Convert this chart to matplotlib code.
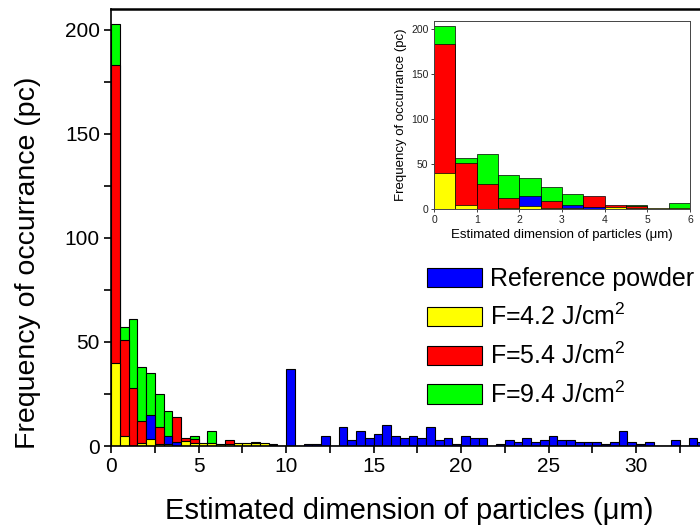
import matplotlib

matplotlib.use("Agg")

import matplotlib.pyplot as plt
import numpy as np
from matplotlib import font_manager
from matplotlib.patches import Patch

# bin left edges (0.5 um bins)
bin_left = np.arange(0, 34, 0.5)
bin_width = 0.5

# counts per bin
ref_powder = [0, 0, 0, 0, 15, 0, 5, 2, 0, 0, 0, 0, 0, 0, 0, 0, 0, 0, 0, 0,
              37, 0, 1, 1, 5, 0, 9, 3, 7, 4, 6, 10, 5, 4, 5, 4, 9, 3, 4, 1,
              5, 4, 4, 0, 1, 3, 2, 4, 2, 3, 5, 3, 3, 2, 2, 2, 1, 2, 7, 2,
              1, 2, 0, 0, 3, 0, 4, 2]
f42 = [40, 5, 0, 1.5, 3.5, 1, 1, 0, 2.5, 1.5, 1.5, 1.5, 1, 1, 1.5, 1.5, 1.5, 1.5, 0.5, 0] + [0] * 48
f54 = [183, 51, 28, 12, 0, 9, 0, 14, 4, 3.5, 0, 0, 0, 3, 0, 0, 0, 0, 1, 0] + [0] * 48
f94 = [203, 57, 61, 38, 35, 25, 17, 0, 0, 5, 0, 7, 0, 0, 0, 0, 2, 0, 0, 0] + [0] * 48

series = [
    ("F=9.4 J/cm$^2$", f94, "#00ff00"),
    ("F=5.4 J/cm$^2$", f54, "#ff0000"),
    ("Reference powder", ref_powder, "#0000ff"),
    ("F=4.2 J/cm$^2$", f42, "#ffff00"),
]
legend_order = ["Reference powder", "F=4.2 J/cm$^2$", "F=5.4 J/cm$^2$", "F=9.4 J/cm$^2$"]

names = {f.name for f in font_manager.fontManager.ttflist}
if "Liberation Sans Narrow" in names:
    main_font, label_size, tick_size, leg_size = "Liberation Sans Narrow", 25, 17, 21
else:
    main_font, label_size, tick_size, leg_size = "Liberation Sans", 21, 15, 18

plt.rcParams["font.family"] = ["Liberation Sans", "DejaVu Sans"]
plt.rcParams["mathtext.fontset"] = "custom"
plt.rcParams["mathtext.rm"] = "Liberation Sans"
plt.rcParams["mathtext.it"] = "Liberation Sans:italic"

fig = plt.figure(figsize=(7, 5.28), dpi=100)
ax = fig.add_axes([111 / 700, 82 / 528, 589 / 700, 437 / 528])


def draw_bars(a, lw):
    for label, vals, color in series:
        a.bar(bin_left, vals, width=bin_width, align="edge", color=color,
              edgecolor="black", linewidth=lw, label=label)


draw_bars(ax, 0.8)
ax.set_xlim(0, 33.65)
ax.set_ylim(0, 210)
ax.set_xticks([0, 5, 10, 15, 20, 25, 30])
ax.set_xticks(np.arange(2.5, 34, 5), minor=True)
ax.set_yticks([0, 50, 100, 150, 200])
ax.set_yticks([25, 75, 125, 175], minor=True)
ax.tick_params(which="both", direction="out", width=1.2, top=False, right=False)
ax.tick_params(which="major", length=5, pad=3)
ax.tick_params(which="minor", length=5)
for lab in ax.get_xticklabels() + ax.get_yticklabels():
    lab.set_fontfamily(main_font)
    lab.set_fontsize(tick_size)
ax.spines["right"].set_visible(False)
for s in ("left", "bottom"):
    ax.spines[s].set_linewidth(1.2)
ax.spines["top"].set_linewidth(1.8)

ax.set_xlabel("Estimated dimension of particles (\u03bcm)", fontfamily=main_font,
              fontsize=label_size, va="center")
ax.xaxis.set_label_coords(0.507, -(511 - 446) / 437)
ax.set_ylabel("Frequency of occurrance (pc)", fontfamily=main_font,
              fontsize=label_size - 0.5, va="center")
ax.yaxis.set_label_coords(-(111 - 28) / 589, 0.42)

handles = {lab: Patch(facecolor=c, edgecolor="black", linewidth=0.8) for lab, _, c in series}
ax.legend([handles[l] for l in legend_order], legend_order, loc="upper left",
          bbox_to_anchor=(427 / 700, 1 - 267 / 528), bbox_transform=fig.transFigure,
          frameon=False, fontsize=leg_size, borderpad=0, borderaxespad=0,
          handlelength=2.2, handleheight=0.8, handletextpad=0.3, labelspacing=0.5)

# inset: zoom on 0-6 um
axin = fig.add_axes([434 / 700, 1 - 209 / 528, 256 / 700, 188 / 528])
draw_bars(axin, 0.5)
axin.set_xlim(0, 6)
axin.set_ylim(0, 209)
axin.set_xticks(range(0, 7))
axin.set_yticks([0, 50, 100, 150, 200])
axin.tick_params(direction="out", length=2.5, width=0.6, pad=1.5, labelsize=7.5, colors="#222222")
for s in axin.spines.values():
    s.set_linewidth(0.7)
    s.set_color("#444444")
axin.set_xlabel("Estimated dimension of particles (\u03bcm)", fontsize=9.5, labelpad=3)
axin.set_ylabel("Frequency of occurrance (pc)", fontsize=9.5, labelpad=3)

fig.savefig("out.png", dpi=100)
plt.close(fig)
